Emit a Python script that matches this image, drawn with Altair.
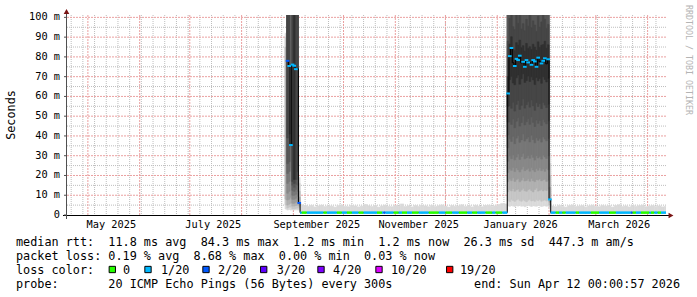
import altair as alt
import pandas as pd

MONO = "DejaVu Sans Mono"
NB = "\u00a0"

# ---------------- axis / grid positions ----------------
MONTH_LINES = ["2025-05-01", "2025-06-01", "2025-07-01", "2025-08-01", "2025-09-01", "2025-10-01",
               "2025-11-01", "2025-12-01", "2026-01-01", "2026-02-01", "2026-03-01", "2026-04-01"]
WEEK_LINES = [d.strftime("%Y-%m-%d") for d in pd.date_range("2025-04-21", "2026-04-06", freq="7D")]
LABEL_DATES = ["2025-05-15", "2025-07-15", "2025-09-15", "2025-11-15", "2026-01-15", "2026-03-15"]
Y_LABELS = [0, 10, 20, 30, 40, 50, 60, 70, 80, 90, 100]
Y_MAJOR = [10, 20, 30, 40, 50, 60, 70, 80, 90, 100]
Y_MINOR = [5, 15, 25, 35, 45, 55, 65, 75, 85, 95]

# ---------------- smoke shades (outer -> inner) ----------------
LEVELS = [1, 2, 3, 4, 5, 6, 7, 8, 9, 10]
GREYS = ["#dadada", "#c6c6c6", "#b0b0b0", "#9a9a9a", "#888888",
         "#777777", "#666666", "#575757", "#464646", "#303030"]
TOP = 250.0  # above the visible range (clipped)

# ---------------- spike in late August 2025 (ms) ----------------
S1_START = "2025-08-27"
S1_LO = [
    [3.0, 5.0, 8.0, None, None, None, None, None, None, None],      # Aug 27
    [2.5, 3.5, 5.0, 7.6, 11.0, 16.0, 21.0, 26.0, 39.0, None],       # Aug 28
    [2.8, 4.0, 5.5, 8.0, 12.0, 17.0, 22.0, 27.0, 41.0, None],       # Aug 29
    [2.5, 4.0, 6.0, 9.0, 24.0, None, None, None, None, None],       # Aug 30
    [2.5, 3.2, 4.5, 6.0, 8.0, 10.0, 12.5, 15.0, 17.0, None],        # Aug 31
    [2.5, 3.2, 4.5, 6.0, 8.0, 10.0, 12.0, 14.0, 16.0, 18.0],        # Sep 1
    [2.6, 3.4, 4.8, 6.5, 8.5, 10.5, 13.0, 15.5, 18.0, None],        # Sep 2
    [2.5, 3.5, 5.0, 7.0, 9.5, 12.0, 15.0, 18.0, 22.0, None],        # Sep 3
    [2.5, 3.5, 4.5, 5.5, None, None, None, None, None, None],       # Sep 4
]
S1_HI = [
    [92, 90, 85, None, None, None, None, None, None, None],
    [TOP] * 10,
    [TOP] * 10,
    [95, 92, 88, 80, 50, None, None, None, None, None],
    [TOP] * 10,
    [TOP] * 10,
    [TOP] * 10,
    [TOP] * 10,
    [19, 16, 12, 9, None, None, None, None, None, None],
]
S1_MED = [None, 78.0, 75.4, 35.4, 76.1, 75.5, 73.8, 74.0, 6.1]
S1_CLS = [None, "2/20", "1/20", "1/20", "1/20", "1/20", "1/20", None, "2/20"]

# ---------------- spike in January 2026 (Jan 7 .. Jan 31, ms) ----------------
J_START = "2026-01-07"
J_L1 = [4.6, 4.4, 4.8, 4.5, 4.3, 4.7, 4.5, 4.9, 4.4, 4.6, 4.2, 4.5, 4.8, 4.6, 4.3, 4.7, 4.5, 4.4, 4.8, 4.6, 4.3, 4.5, 4.7, 4.4, 4.6]
J_L2 = [7.2, 6.8, 7.9, 7.4, 6.9, 7.6, 8.1, 7.3, 7.0, 7.8, 7.2, 6.7, 7.5, 8.0, 7.1, 7.4, 6.9, 7.7, 7.3, 7.9, 7.0, 7.4, 7.6, 7.1, 7.5]
J_L3 = [11.8, 12.9, 12.2, 13.4, 12.0, 12.7, 13.1, 11.9, 12.6, 13.5, 12.3, 12.0, 12.8, 13.2, 12.4, 11.7, 12.9, 13.6, 12.1, 12.5, 13.0, 12.2, 12.8, 12.4, 13.1]
J_L4 = [16.9, 18.2, 17.4, 18.8, 17.0, 17.9, 18.5, 16.8, 17.6, 18.9, 17.2, 17.5, 18.3, 17.1, 18.6, 17.4, 16.9, 18.0, 17.7, 18.4, 17.3, 17.8, 18.1, 17.0, 17.6]
J_L5 = [21.5, 23.4, 22.6, 24.1, 22.0, 23.8, 22.9, 21.8, 23.2, 24.5, 22.4, 23.0, 23.7, 22.2, 24.0, 22.8, 21.9, 23.5, 22.7, 23.9, 22.5, 23.3, 22.1, 23.6, 22.9]
J_L6 = [27.2, 29.8, 28.5, 30.4, 27.9, 29.3, 30.9, 28.1, 29.6, 31.2, 28.4, 29.0, 30.1, 28.7, 30.6, 29.2, 27.8, 30.0, 28.9, 29.7, 28.3, 30.3, 29.4, 28.6, 29.9]
J_L7 = [34.0, 38.5, 37.2, 39.8, 36.1, 38.9, 40.2, 36.8, 38.0, 41.0, 37.4, 38.6, 39.5, 37.0, 40.4, 38.2, 36.5, 39.1, 37.8, 38.8, 36.9, 39.6, 38.4, 37.5, 38.7]
J_L8 = [40.5, 47.0, 45.8, 48.6, 44.2, 47.5, 49.3, 45.0, 46.8, 50.1, 45.6, 47.2, 48.8, 45.9, 49.6, 46.9, 44.8, 48.1, 46.4, 47.8, 45.3, 48.4, 47.0, 46.1, 47.6]
J_L9 = [47.0, 55.2, 54.0, 57.1, 52.6, 56.0, 58.0, 53.4, 55.5, 58.8, 54.1, 55.9, 57.4, 54.6, 58.2, 55.3, 53.0, 56.8, 54.9, 56.4, 53.8, 57.0, 55.6, 54.4, 56.1]
J_L10 = [55.0, 68.5, 70.2, 66.8, 65.9, 69.4, 70.8, 66.2, 68.9, 71.5, 67.1, 68.0, 70.3, 67.6, 69.9, 68.4, 66.0, 69.6, 67.9, 69.1, 66.7, 70.0, 68.6, 67.3, 69.2]
J_U10 = [70.0, 86.5, 90.2, 84.0, 83.1, 87.2, 86.0, 88.5, 84.6, 85.7, 82.9, 86.8, 84.2, 85.1, 83.7, 86.4, 85.0, 83.3, 87.6, 84.8, 85.9, 86.2, 87.9, 84.4, 86.1]
J_U9 = [88.0, 99.5, 104.0, 95.2, 93.8, 101.5, 97.0, 102.5, 94.1, 96.8, 93.2, 99.0, 95.6, 103.0, 94.7, 98.2, 96.1, 92.9, 100.6, 95.0, 97.7, 102.2, 99.1, 94.5, 96.4]
J_MED = [61.5, 80.4, 84.5, 77.0, 75.4, 79.0, 78.4, 80.6, 77.0, 77.5, 75.0, 78.4, 77.2, 77.2, 76.0, 78.4, 77.7, 75.0, 79.6, 77.5, 76.7, 78.0, 79.3, 76.5, 78.8]
J_CLS = ["1/20", "1/20", "1/20", None, "1/20", "1/20", "1/20", "1/20", None, "1/20", "1/20", "1/20", "1/20",
         None, "1/20", "1/20", "1/20", "1/20", "1/20", None, "1/20", "1/20", "1/20", None, "1/20"]

FEB1 = "2026-02-01"
FEB1_LO = [3.0, 4.0, 5.0, 6.5]
FEB1_HI = [31.0, 26.0, 20.0, 14.0]
FEB1_MED = 7.9
FEB1_CLS = "1/20"

# ---------------- quiet periods (2-day buckets of smoke top, ms) ----------------
N_MED = 1.2
SMOKE_FLOOR = 1.3
N1_START, N1_END = "2025-09-05", "2026-01-06"
N1_TOP = [5.2, 4.8, 4.4, 4.9, 4.1, 4.6, 5.0, 4.3, 4.7, 4.5,
          4.0, 4.8, 5.1, 4.4, 4.2, 4.9, 4.6, 4.1, 4.5, 5.3,
          4.7, 4.3, 4.8, 4.0, 4.6, 5.0, 4.4, 4.2, 4.9, 4.5,
          5.6, 4.3, 4.7, 4.1, 4.8, 4.4, 5.0, 4.6, 4.2, 4.9,
          4.3, 4.7, 5.1, 4.5, 4.0, 4.8, 4.4, 4.6, 5.2, 4.3,
          4.7, 4.1, 4.9, 4.5, 4.2, 4.8, 5.0, 4.4, 4.6, 5.3,
          5.8, 5.6]
N2_START, N2_END = "2026-02-02", "2026-04-11"
N2_TOP = [4.6, 4.2, 4.9, 4.4, 4.0, 4.7, 5.1, 4.3, 4.5, 4.8,
          4.1, 4.6, 5.0, 4.4, 4.2, 4.9, 4.5, 4.7, 4.0, 4.8,
          5.2, 4.3, 4.6, 4.1, 4.9, 4.4, 4.7, 5.0, 4.2, 4.5,
          4.8, 4.3, 4.6, 4.1, 4.4]

GREEN_RANGES = [("2025-09-06", "2025-09-08"), ("2025-09-19", "2025-09-20"), ("2025-09-27", "2025-09-29"),
                ("2025-10-03", "2025-10-05"), ("2025-10-10", "2025-10-12"), ("2025-10-21", "2025-10-23"),
                ("2025-10-31", "2025-11-02"), ("2025-11-05", "2025-11-07"), ("2025-11-11", "2025-11-14"),
                ("2025-11-21", "2025-11-26"), ("2025-12-01", "2025-12-04"), ("2025-12-09", "2025-12-13"),
                ("2025-12-17", "2025-12-19"), ("2025-12-25", "2025-12-28"), ("2025-12-31", "2026-01-03"),
                ("2026-02-05", "2026-02-06"), ("2026-02-09", "2026-02-10"), ("2026-02-17", "2026-02-18"),
                ("2026-02-26", "2026-03-02"), ("2026-03-09", "2026-03-12"), ("2026-03-23", "2026-03-24"),
                ("2026-03-28", "2026-04-01"), ("2026-04-03", "2026-04-04"), ("2026-04-07", "2026-04-08")]
DARKBLUE_DAYS = ["2025-10-25", "2026-03-22"]

CLS_DOMAIN = ["0", "1/20", "2/20", "3/20", "4/20", "10/20", "19/20"]
CLS_COLORS = ["#26ff00", "#00b8ff", "#0059ff", "#5e00ff", "#7e00ff", "#dd00ff", "#ff0000"]

# ---------------- legend text ----------------
LEG_ROW1 = "median rtt:  11.8 ms avg  84.3 ms max  1.2 ms min  1.2 ms now  26.3 ms sd  447.3 m am/s"
LEG_ROW2 = "packet loss: 0.19 % avg  8.68 % max  0.00 % min  0.03 % now"
LEG_ROW3 = "loss color:"
LEG_ROW4 = "probe:       20 ICMP Echo Pings (56 Bytes) every 300s"
LEG_END = "end: Sun Apr 12 00:00:57 2026"

# ---------------- build tables ----------------
DAY = pd.Timedelta(days=1)
smoke = []


def add_bands(day, los, his, span=DAY):
    for lev, (lo, hi) in enumerate(zip(los, his), start=1):
        if lo is None or hi is None:
            continue
        smoke.append({"start": day, "end": day + span, "level": lev, "lo": lo, "hi": hi})


s1 = pd.Timestamp(S1_START)
for i, (los, his) in enumerate(zip(S1_LO, S1_HI)):
    add_bands(s1 + i * DAY, los, his)
j0 = pd.Timestamp(J_START)
J_LS = [J_L1, J_L2, J_L3, J_L4, J_L5, J_L6, J_L7, J_L8, J_L9, J_L10]
for i in range(len(J_MED)):
    add_bands(j0 + i * DAY, [L[i] for L in J_LS], [TOP] * 8 + [J_U9[i], J_U10[i]])
add_bands(pd.Timestamp(FEB1), FEB1_LO, FEB1_HI)
for start, tops in [(N1_START, N1_TOP), (N2_START, N2_TOP)]:
    t0 = pd.Timestamp(start)
    for i, tp in enumerate(tops):
        add_bands(t0 + 2 * i * DAY, [SMOKE_FLOOR], [tp], span=2 * DAY)
smoke_df = pd.DataFrame(smoke).sort_values("level", kind="stable")

green = set()
for a, b in GREEN_RANGES:
    for d in pd.date_range(a, b):
        green.add(d)
dblue = set(pd.to_datetime(DARKBLUE_DAYS))


def normal_cls(d):
    if d in dblue:
        return "2/20"
    return "0" if d in green else "1/20"


med = []      # (day, value, class, kind)
for i in range(1, len(S1_MED)):
    med.append((s1 + i * DAY, S1_MED[i], S1_CLS[i], "spike"))
for d in pd.date_range(N1_START, N1_END):
    med.append((d, N_MED, normal_cls(d), "normal"))
for i in range(len(J_MED)):
    med.append((j0 + i * DAY, J_MED[i], J_CLS[i], "spike"))
med.append((pd.Timestamp(FEB1), FEB1_MED, FEB1_CLS, "spike"))
for d in pd.date_range(N2_START, N2_END):
    med.append((d, N_MED, normal_cls(d), "normal"))

line_df = pd.DataFrame([{"t": d, "val": v} for d, v, c, k in med] +
                       [{"t": med[-1][0] + DAY, "val": med[-1][1]}])

spike_seg = pd.DataFrame([{"start": d, "end": d + DAY, "val": v, "cls": c}
                          for d, v, c, k in med if k == "spike" and c is not None])
runs = []
for d, v, c, k in med:
    if k != "normal":
        continue
    if runs and runs[-1]["cls"] == c and runs[-1]["end"] == d and runs[-1]["val"] == v:
        runs[-1]["end"] = d + DAY
    else:
        runs.append({"start": d, "end": d + DAY, "val": v, "cls": c})
normal_seg = pd.DataFrame(runs)

ylab_df = pd.DataFrame({"v": Y_LABELS,
                        "lab": [("0" + NB + NB) if v == 0 else (str(v) + NB + "m") for v in Y_LABELS]})
xlab_df = pd.DataFrame({"t": pd.to_datetime(LABEL_DATES)})
xlab_df["lab"] = [d.strftime("%B %Y").replace(" ", NB) for d in xlab_df["t"]]

# ---------------- scales ----------------
X_SCALE = alt.Scale(domain=[alt.DateTime(year=2025, month=4, date=18, hours=12),
                            alt.DateTime(year=2026, month=4, date=12)])
Y_SCALE = alt.Scale(domain=[0, 101.2], nice=False, zero=False)
cls_color = alt.Color("cls:N", scale=alt.Scale(domain=CLS_DOMAIN, range=CLS_COLORS), legend=None)

ONE = pd.DataFrame({"k": [0]})
AX_FONT = 10.3
LEG_FONT = 11.8


def X(field):
    return alt.X(field, scale=X_SCALE, axis=None)


def Y(field):
    return alt.Y(field, scale=Y_SCALE, axis=None)


def vgrid(dates, color, dash):
    df = pd.DataFrame({"t": pd.to_datetime(dates)})
    return alt.Chart(df).mark_rule(color=color, strokeDash=dash, strokeWidth=1, opacity=1).encode(
        x=X("t:T"))


def hgrid(vals, color, dash):
    df = pd.DataFrame({"v": vals})
    return alt.Chart(df).mark_rule(color=color, strokeDash=dash, strokeWidth=1, opacity=1).encode(
        y=Y("v:Q"))


def txt(s, x, y, size=LEG_FONT, align="left", angle=0, color="black"):
    return alt.Chart(ONE).mark_text(font=MONO, fontSize=size, align=align, baseline="middle",
                                    angle=angle, color=color).encode(
        x=alt.value(x), y=alt.value(y), text=alt.value(s.replace(" ", NB)))


layers = [
    vgrid(WEEK_LINES, "#bdbdbd", [1, 1]),
    hgrid(Y_MINOR, "#bdbdbd", [1, 1]),
    vgrid(MONTH_LINES, "#eaa0a0", [2, 1]),
    hgrid(Y_MAJOR, "#eaa0a0", [2, 1]),
    alt.Chart(smoke_df).mark_rect(clip=True, strokeWidth=0.6).encode(
        x=X("start:T"), x2="end:T", y=Y("lo:Q"), y2="hi:Q",
        fill=alt.Fill("level:O", scale=alt.Scale(domain=LEVELS, range=GREYS), legend=None),
        stroke=alt.Stroke("level:O", scale=alt.Scale(domain=LEVELS, range=GREYS), legend=None),
    ),
    alt.Chart(line_df).mark_line(interpolate="step-after", color="black", strokeWidth=1, clip=True).encode(
        x=X("t:T"), y=Y("val:Q")),
    alt.Chart(normal_seg).mark_rule(strokeWidth=2.5, clip=True).encode(
        x=X("start:T"), x2="end:T", y=Y("val:Q"), color=cls_color),
    alt.Chart(spike_seg).mark_rule(strokeWidth=2, strokeCap="square", clip=True).encode(
        x=X("start:T"), x2="end:T", y=Y("val:Q"), color=cls_color),
    # axis lines, ticks, labels and arrows
    alt.Chart(ONE).mark_rule(color="#000000", strokeWidth=1).encode(
        x=alt.value(-4), x2=alt.value(603), y=alt.value(200.5)),
    alt.Chart(ONE).mark_rule(color="#505050", strokeWidth=1).encode(
        x=alt.value(-0.5), y=alt.value(-3), y2=alt.value(204)),
    alt.Chart(ylab_df).mark_rule(color="#505050", strokeWidth=1).encode(
        x=alt.value(-3), x2=alt.value(0), y=Y("v:Q")),
    alt.Chart(ylab_df).mark_text(font=MONO, fontSize=AX_FONT, align="right", baseline="middle",
                                 color="black").encode(
        x=alt.value(-7), y=Y("v:Q"), text="lab:N"),
    alt.Chart(xlab_df).mark_text(font=MONO, fontSize=AX_FONT, align="center", baseline="middle",
                                 color="black").encode(
        x=X("t:T"), y=alt.value(210), text="lab:N"),
    alt.Chart(ONE).mark_point(shape="triangle-up", filled=True, size=32, color="#7a1414", opacity=1).encode(
        x=alt.value(-0.5), y=alt.value(-3.5)),
    alt.Chart(ONE).mark_point(shape="triangle-right", filled=True, size=32, color="#7a1414", opacity=1).encode(
        x=alt.value(604), y=alt.value(200.5)),
    txt("Seconds", -56, 100, angle=270, align="center"),
    txt("RRDTOOL / TOBI OETIKER", 620.5, 45, size=8.3, align="center", angle=90, color="#b4b4b4"),
]

# legend lines (page coords minus plot origin 67,15)
R1, R2, R3, R4 = 226.5, 240.5, 254.5, 268.5
layers.append(txt(LEG_ROW1, -51, R1))
layers.append(txt(LEG_ROW2, -51, R2))
layers.append(txt(LEG_ROW3, -51, R3))
SQ_X = [45.3, 81, 139, 196.7, 254, 312, 382.7]
LB_X = [56, 94, 151, 209.7, 266, 324, 393]
for name, col, sx, lx in zip(CLS_DOMAIN, CLS_COLORS, SQ_X, LB_X):
    layers.append(alt.Chart(ONE).mark_point(shape="square", filled=True, size=40, color=col, opacity=1,
                                            stroke="black", strokeWidth=1).encode(
        x=alt.value(sx), y=alt.value(R3)))
    layers.append(txt(name, lx, R3))
layers.append(txt(LEG_ROW4, -51, R4))
layers.append(txt(LEG_END, 613, R4, align="right"))

chart = alt.layer(*layers).properties(
    width=599, height=200,
    autosize=alt.AutoSizeParams(type="none"),
    padding={"left": 67, "top": 15, "right": 31, "bottom": 82},
    background="white",
).configure_view(stroke=None)

chart.save("out.html", embed_options={"renderer": "svg", "actions": False})
